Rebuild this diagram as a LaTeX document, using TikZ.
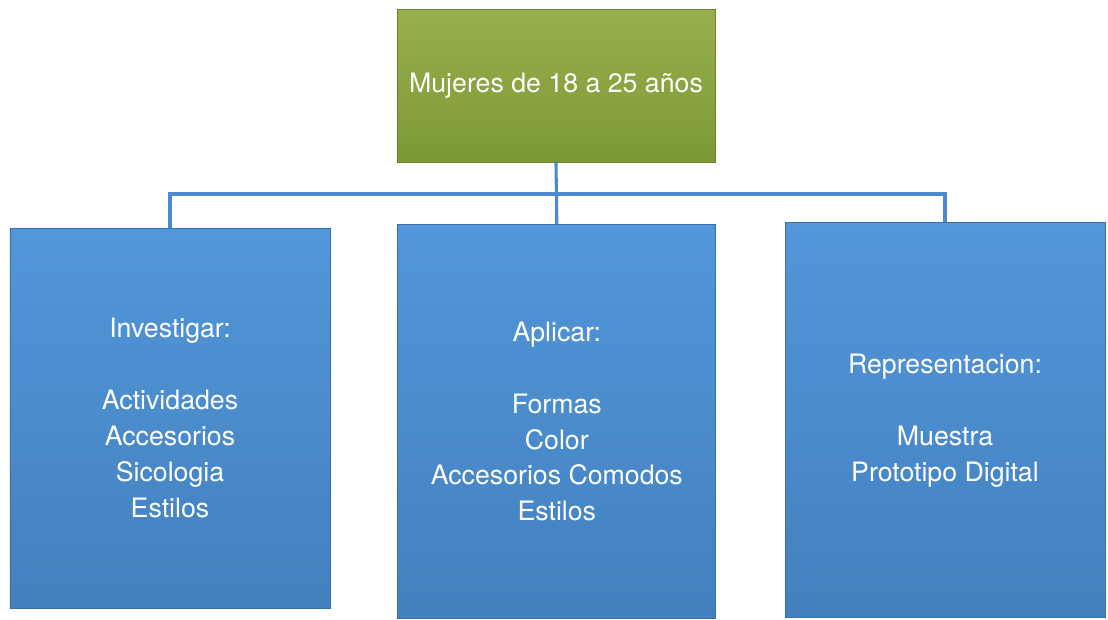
\documentclass[tikz,border=0pt]{standalone}
\usepackage{fontspec}
\setmainfont{TeX Gyre Heros}
\usepackage{tikz}
\usetikzlibrary{calc}
\definecolor{greentop}{HTML}{98B04C}
\definecolor{greenbot}{HTML}{7C9836}
\definecolor{greenedge}{HTML}{6A8430}
\definecolor{bluetop}{HTML}{5297DA}
\definecolor{bluebot}{HTML}{4380BE}
\definecolor{blueedge}{HTML}{3A70A8}
\definecolor{bluelink}{HTML}{4A8BD0}
\tikzset{
	headbox/.style={draw=greenedge, line width=0.6pt, top color=greentop, bottom color=greenbot,
		minimum width=7.95cm, minimum height=3.825cm, text=white, align=center,
		font=\fontsize{19}{25.5}\selectfont},
	itembox/.style={draw=blueedge, line width=0.6pt, top color=bluetop, bottom color=bluebot,
		minimum width=8cm, text=white, align=center,
		font=\fontsize{19}{25.5}\selectfont},
	link/.style={draw=bluelink, line width=2.2pt}
}

\begin{document}
\begin{tikzpicture}
		%%%%% START %%%%%
		
		\useasboundingbox[fill=white] (0, 0) rectangle (27.7, -15.5);
		
		\node[headbox] (top) at (13.9, -2.14) {Mujeres de 18 a 25 años};
		
		\node[itembox, minimum height=9.5cm] (left) at (4.25, -10.45)
			{Investigar:\\[25.5pt]Actividades\\Accesorios\\Sicologia\\Estilos};
		\node[itembox, minimum height=9.85cm, minimum width=7.95cm] (mid) at (13.92, -10.54)
			{Aplicar:\\[25.5pt]Formas\\Color\\Accesorios Comodos\\Estilos};
		\node[itembox, minimum height=9.875cm] (right) at (23.625, -10.51)
			{Representacion:\\[25.5pt]Muestra\\Prototipo Digital};
		
		\coordinate (bus) at (0, -4.85);
		
		\draw[link] (top.south) -- (mid.north);
		\draw[link] (left.north) -- (left.north |- bus) -- (right.north |- bus) -- (right.north);
		
		%%%%% END %%%%%
	\end{tikzpicture}
\end{document}
